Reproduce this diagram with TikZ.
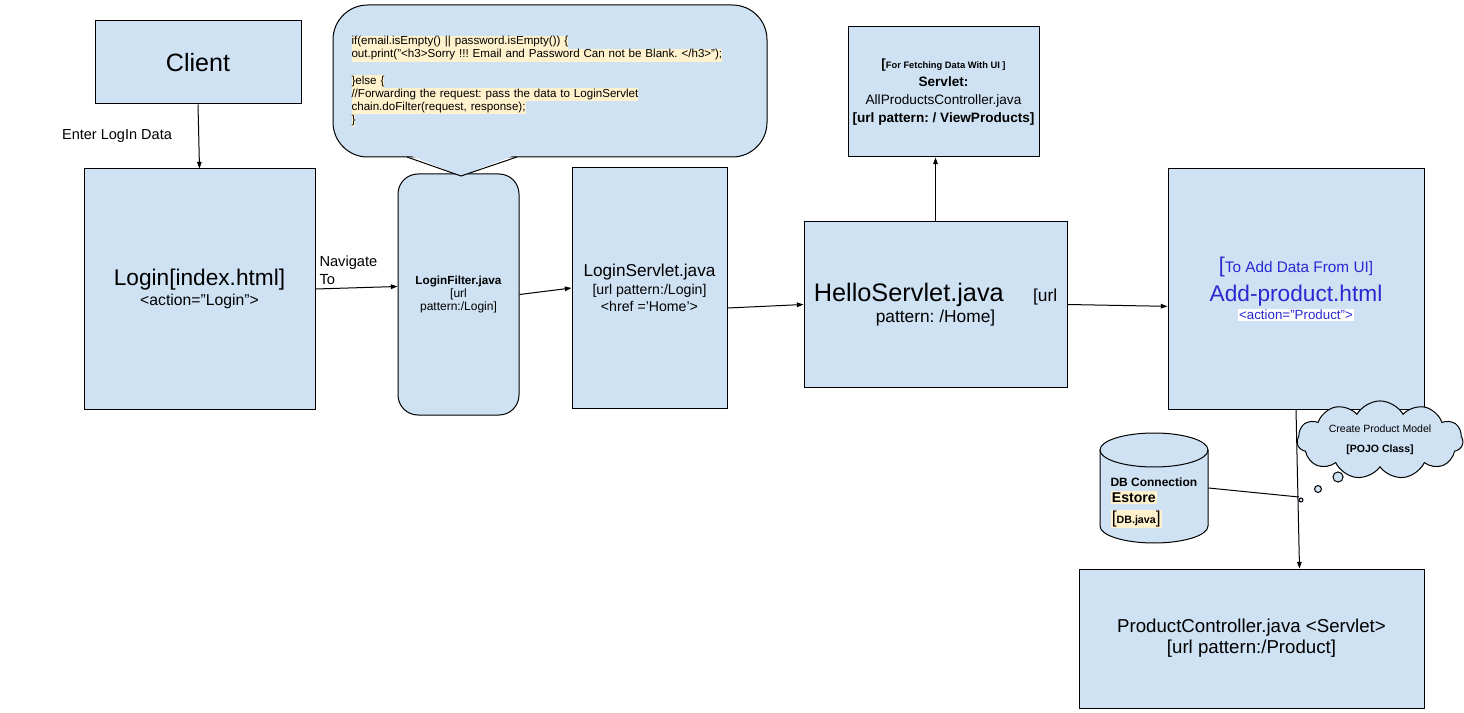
\documentclass[tikz,border=0pt]{standalone}
\usepackage{fontspec}
\setmainfont{Liberation Sans}
\usepackage{tikz}
\usetikzlibrary{arrows.meta,shapes.symbols}
\definecolor{boxblue}{HTML}{CFE2F3}
\definecolor{hl}{HTML}{FFF2CC}
\definecolor{addblue}{RGB}{40,40,210}
\newcommand{\fsz}[2]{\fontsize{#1}{#2}\selectfont}
\newcommand{\hlline}[1]{{\fboxsep=0pt\colorbox{hl}{\strut #1}}}
\frenchspacing

\begin{document}
\begin{tikzpicture}[x=0.75pt,y=-0.75pt,line width=0.75pt]
	\useasboundingbox (0,0) rectangle (1464,713);
	\begin{scope}[every node/.style={rectangle,draw,fill=boxblue,align=center,inner sep=2pt}]
	\node[minimum width=154.5pt,minimum height=62.25pt,font=\fsz{18.8}{22}] (client) at (198,62.5) {Client};
	\node[minimum width=173.25pt,minimum height=180pt,font=\fsz{11.8}{15}] (login) at (199.5,289) {{\fsz{17}{15}Login[index.html]}\\<action=”Login”>};
	\node[minimum width=90.75pt,minimum height=180.75pt,rounded corners=15pt,font=\fsz{9}{10}] (filter) at (458.5,294.5) {\textbf{\fsz{8.8}{10}LoginFilter.java}\\{[}url\\pattern:/Login]};
	\node[minimum width=116.25pt,minimum height=180pt,font=\fsz{10.6}{12.5}] (servlet) at (649.5,288) {{\fsz{12.9}{12.5}LoginServlet.java}\\[1pt]{[}url pattern:/Login]\\<href ='Home'>};
	\node[minimum width=197.25pt,minimum height=123.75pt,font=\fsz{13}{16}] (hello) at (935.5,304.5) {{\fsz{19}{16}HelloServlet.java}\hspace{22pt}[url\\pattern: /Home]};
	\node[minimum width=143.25pt,minimum height=97.5pt,font=\fsz{10.2}{13.5}] (allprod) at (943.5,92) {{\bfseries\fsz{10}{13.5}[\fsz{7}{13.5}For Fetching Data With UI ]}\\\textbf{Servlet:}\\AllProductsController.java\\\textbf{[url pattern: / ViewProducts]}};
	\node[minimum width=192pt,minimum height=180pt,text=addblue,font=\fsz{11.5}{14}] (addprod) at (1296,289) {{\fsz{16}{14}[}To Add Data From UI]\\[5pt]{\fsz{17}{14}Add-product.html}\\{\fboxsep=1pt\colorbox{white}{\fsz{10}{14}<action=”Product”>}}};
	\node[minimum width=258.75pt,minimum height=104.25pt,font=\fsz{14}{16}] (prodctrl) at (1251.5,638.5) {ProductController.java <Servlet>\\{[}url pattern:/Product]};
	\end{scope}
	\node[draw,fill=boxblue,rounded corners=26pt,minimum width=325.5pt,minimum height=114pt] (note) at (550,81) {};
	\fill[boxblue] (409,155) -- (461,176) -- (515,155) -- cycle;
	\draw (407,157) -- (461,176) -- (517,157);
	\node[anchor=west,text width=290pt,align=left,inner sep=0pt,font=\fsz{8.7}{9.8}] (code) at (351,81.5) {\noindent
		\hlline{if(email.isEmpty() || password.isEmpty()) \{}\\
		\hlline{out.print("<h3>Sorry !!! Email and Password Can not be Blank. </h3>");}\\[9.8pt]
		\hlline{\}else \{}\\
		\hlline{//Forwarding the request: pass the data to LoginServlet}\\
		\hlline{chain.doFilter(request, response);}\\
		\hlline{\}}};
	\node[cloud,draw,fill=boxblue,cloud puffs=11,cloud puff arc=120,cloud ignores aspect,minimum width=124.5pt,minimum height=40.5pt,align=center,font=\fsz{7.9}{9}] (pojo) at (1380,440) {Create Product Model\\[6pt]\textbf{[POJO Class]}};
	\draw[fill=boxblue] (1301,500) circle[radius=1.5pt] (1318,489) circle[radius=2.6pt] (1338,477) circle[radius=3.8pt];
	\draw[fill=boxblue] (1100,450) -- (1100,526) arc[start angle=180,end angle=360,x radius=40.5pt,y radius=12.75pt] -- (1208,450) arc[start angle=0,end angle=180,x radius=40.5pt,y radius=12.75pt] -- cycle;
	\draw (1100,450) arc[start angle=180,end angle=360,x radius=40.5pt,y radius=12.75pt];
	\node[inner sep=0pt,minimum width=81pt,minimum height=82.5pt] (db) at (1154,488) {};
	\node[anchor=west,align=left,inner sep=0pt,font=\fsz{9}{12}\bfseries] (dbtext) at (1110,503) {DB Connection\\{\fboxsep=1pt\colorbox{hl}{\fsz{10.6}{12}Estore}}\\[4pt]{\fboxsep=1pt\colorbox{hl}{{\mdseries\fsz{13}{12}[}\fsz{8}{12}DB.java{\mdseries\fsz{13}{12}]}}}};
	\node[font=\fsz{10.9}{13}] (enter) at (117,136) {Enter LogIn Data};
	\node[anchor=west,align=left,inner sep=0pt,font=\fsz{11}{13.5}] (nav) at (319,270) {Navigate\\To};
	\coordinate (tap) at (1299,497);
	\begin{scope}[>={Triangle[length=5pt,width=3.5pt]},
	every edge/.style={draw,line width=0.75pt}]
	\path [->] (client.south) edge (login.north);
	\path [->] (login.east) edge ([yshift=6pt]filter.west);
	\path [->] (filter.east) edge (servlet.west);
	\path [->] ([yshift=-15pt]servlet.east) edge (hello.west);
	\path [->] (hello.north) edge ([xshift=-6pt]allprod.south);
	\path [->] (hello.east) edge ([yshift=-13pt]addprod.west);
	\path [->] (addprod.south) edge ([xshift=36pt]prodctrl.north);
	\path [-] (db.east) edge (tap);
	\end{scope}
\end{tikzpicture}
\end{document}
